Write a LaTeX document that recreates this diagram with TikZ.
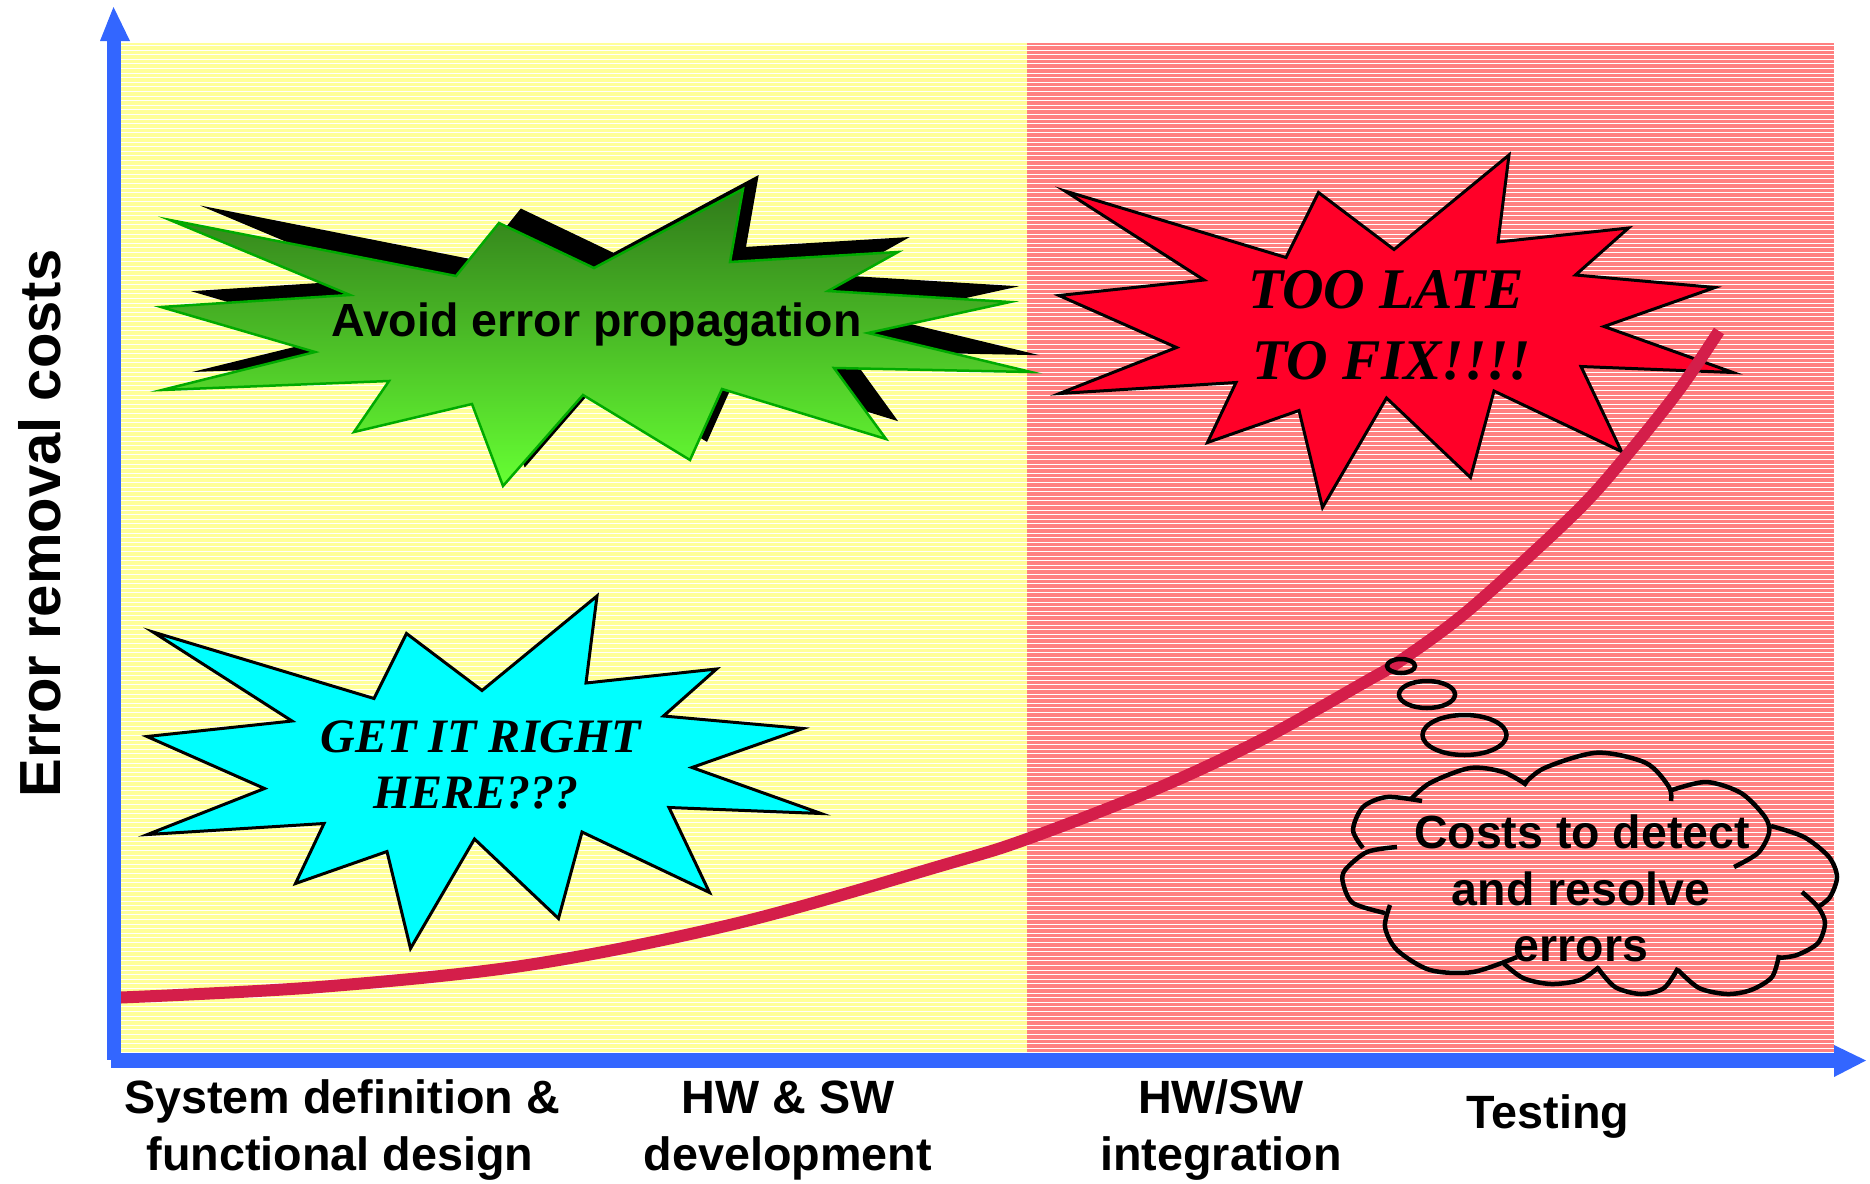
\documentclass[tikz,border=0pt]{standalone}
\usepackage{fontspec}
\setmainfont{Liberation Serif}
\newfontfamily\lsans{Liberation Sans}
\definecolor{axisblue}{RGB}{51,102,255}
\definecolor{padyellow}{RGB}{255,255,153}
\definecolor{padpink}{RGB}{255,128,128}
\definecolor{curvered}{RGB}{212,30,74}
\definecolor{starred}{RGB}{255,0,40}
\definecolor{starcyan}{RGB}{0,255,255}
\definecolor{greentop}{RGB}{48,122,26}
\definecolor{greenbot}{RGB}{102,255,51}
\definecolor{greenedge}{RGB}{0,170,0}
\tikzset{
  burst/.pic={\path[pic actions] (1065,191) -- (1286,257.5) -- (1318.5,192.5) -- (1394,249.5) -- (1509,155) -- (1498,242) -- (1628.5,228) -- (1575.5,275) -- (1715,287.5) -- (1604,326.5) -- (1733,372.5) -- (1581,366.5) -- (1621.5,451.5) -- (1494,391) -- (1470.5,477.5) -- (1386.5,398) -- (1322.5,507.5) -- (1299,410.5) -- (1207.5,442.5) -- (1236,382.5) -- (1059.5,393.5) -- (1176.5,347.5) -- (1059,295.5) -- (1204,280) -- cycle;},
  sanslbl/.style={anchor=base, font=\lsans\bfseries\fontsize{46.7pt}{56pt}\selectfont},
  seriflbl/.style={anchor=base, font=\bfseries\itshape\fontsize{#1}{60pt}\selectfont},
  cloudline/.style={draw=black, line width=4.5pt, line cap=butt},
  bubble/.style={draw=black, line width=4.5pt},
}
\begin{document}
\begin{tikzpicture}[x=1pt,y=-1pt]
\useasboundingbox (0,0) rectangle (1870,1183);
% background regions
\fill[padyellow] (121,43) rectangle (1027,1053);
\fill[padpink] (1027,43) rectangle (1834,1053);
\foreach \k in {0,...,219}
  \draw[white, line width=1.1pt] (121,{45.5+4.6*\k}) -- (1834,{45.5+4.6*\k});
% green burst shadow
\fill[black] (200.0,205.5) -- (478.9,260.7) -- (520.8,208.5) -- (613.4,252.8) -- (758.7,175.0) -- (746.0,246.9) -- (909.8,237.0) -- (841.6,275.4) -- (1019.0,286.3) -- (880.6,316.8) -- (1039.5,355.2) -- (847.4,351.3) -- (898.1,421.2) -- (738.2,372.0) -- (707.0,441.9) -- (602.7,377.9) -- (524.7,467.5) -- (494.5,386.7) -- (379.4,414.3) -- (413.5,364.1) -- (192.2,372.0) -- (341.4,335.5) -- (191.2,291.2) -- (375.5,279.4) -- cycle;
% green burst
\draw[top color=greentop, bottom color=greenbot, draw=greenedge, line width=2.5pt] (170,220) -- (456,276) -- (499,223) -- (594,268) -- (743,189) -- (730,262) -- (898,252) -- (828,291) -- (1010,302) -- (868,333) -- (1031,372) -- (834,368) -- (886,439) -- (722,389) -- (690,460) -- (583,395) -- (503,486) -- (472,404) -- (354,432) -- (389,381) -- (162,390) -- (315,352) -- (161,307) -- (350,295) -- cycle;
% red and cyan bursts
\pic[fill=starred, draw=black, line width=3pt] at (0,0) {burst};
\pic[fill=starcyan, draw=black, line width=3pt] at (-912,441) {burst};
% cost curve
\draw[curvered, line width=12pt] plot[smooth, tension=0.55] coordinates {(121,997.5) (319,987) (528,965) (738,923) (947,864) (1027,839) (1156,789) (1261,740) (1365,682) (1400,661) (1470,609) (1574,514) (1627,455) (1679,390) (1719,331)};
% thought bubbles
\draw[bubble] (1401,666) ellipse [x radius=14pt, y radius=7pt];
\draw[bubble] (1427,694.5) ellipse [x radius=28pt, y radius=13.5pt];
\draw[bubble] (1464.5,735) ellipse [x radius=42pt, y radius=20pt];
% cloud lobes
\draw[cloudline] plot[smooth] coordinates {(1363,848) (1353,830) (1363,807) (1387,797) (1422,801)};
\draw[cloudline] plot[smooth] coordinates {(1410,800) (1430,783) (1470,768) (1503,772) (1527,785)};
\draw[cloudline] plot[smooth] coordinates {(1523,785) (1544.5,768) (1597,752.7) (1646,763) (1669,787) (1671,801)};
\draw[cloudline] plot[smooth] coordinates {(1669,791) (1706,782) (1741,793) (1765,817) (1769,833) (1758,853) (1734,867)};
\draw[cloudline] plot[smooth] coordinates {(1771,826) (1804,837) (1829,857) (1837,877) (1830,897) (1818,907)};
\draw[cloudline] plot[smooth] coordinates {(1802,892) (1818,907) (1825,923) (1818,943) (1797,955) (1778,958)};
\draw[cloudline] plot[smooth] coordinates {(1779,955) (1772,977) (1751,990) (1727,994) (1699,988) (1678,970)};
\draw[cloudline] plot[smooth] coordinates {(1678,968) (1664,988) (1641,994) (1615,987) (1597,967)};
\draw[cloudline] plot[smooth] coordinates {(1599,967) (1580,980) (1551,984) (1523,978) (1502,962)};
\draw[cloudline] plot[smooth] coordinates {(1390,905) (1385,927) (1397,950) (1430,970) (1473,972) (1517,957)};
\draw[cloudline] plot[smooth] coordinates {(1397,847) (1367,852) (1345,870) (1343,883) (1353,903) (1385,913)};
% texts
\node[sanslbl, font=\lsans\bfseries\fontsize{46.5pt}{56pt}\selectfont] (avoid) at (596.5,336) {Avoid error propagation};
\node[seriflbl=57.5pt] (late1) at (1386,308) {TOO LATE};
\node[seriflbl=57.5pt] (late2) at (1392,379) {TO FIX!!!!};
\node[seriflbl=48pt] (right1) at (481,752) {GET IT RIGHT};
\node[seriflbl=48pt] (right2) at (476,808) {HERE???};
\node[sanslbl, font=\lsans\bfseries\fontsize{46.5pt}{56pt}\selectfont] (cost1) at (1582,848) {Costs to detect};
\node[sanslbl, font=\lsans\bfseries\fontsize{46.5pt}{56pt}\selectfont] (cost2) at (1581,905) {and resolve};
\node[sanslbl, font=\lsans\bfseries\fontsize{46.5pt}{56pt}\selectfont] (cost3) at (1581,961) {errors};
% axes
\fill[axisblue] (107,40) rectangle (121,1060);
\fill[axisblue] (100,41) -- (113.5,7) -- (130,41) -- cycle;
\fill[axisblue] (111,1053) rectangle (1835,1068);
\fill[axisblue] (1834,1045) -- (1866,1060.5) -- (1834,1077) -- cycle;
% axis labels
\node[anchor=base, rotate=90, font=\lsans\bfseries\fontsize{58pt}{66pt}\selectfont] (ylab) at (60,523.5) {Error removal costs};
\node[sanslbl] (x1a) at (342,1113) {System definition \&};
\node[sanslbl] (x1b) at (340,1170) {functional design};
\node[sanslbl] (x2a) at (788,1113) {HW \& SW};
\node[sanslbl] (x2b) at (788,1170) {development};
\node[sanslbl] (x3a) at (1221,1113) {HW/SW};
\node[sanslbl] (x3b) at (1221,1170) {integration};
\node[sanslbl] (x4) at (1548,1128) {Testing};
\end{tikzpicture}
\end{document}
